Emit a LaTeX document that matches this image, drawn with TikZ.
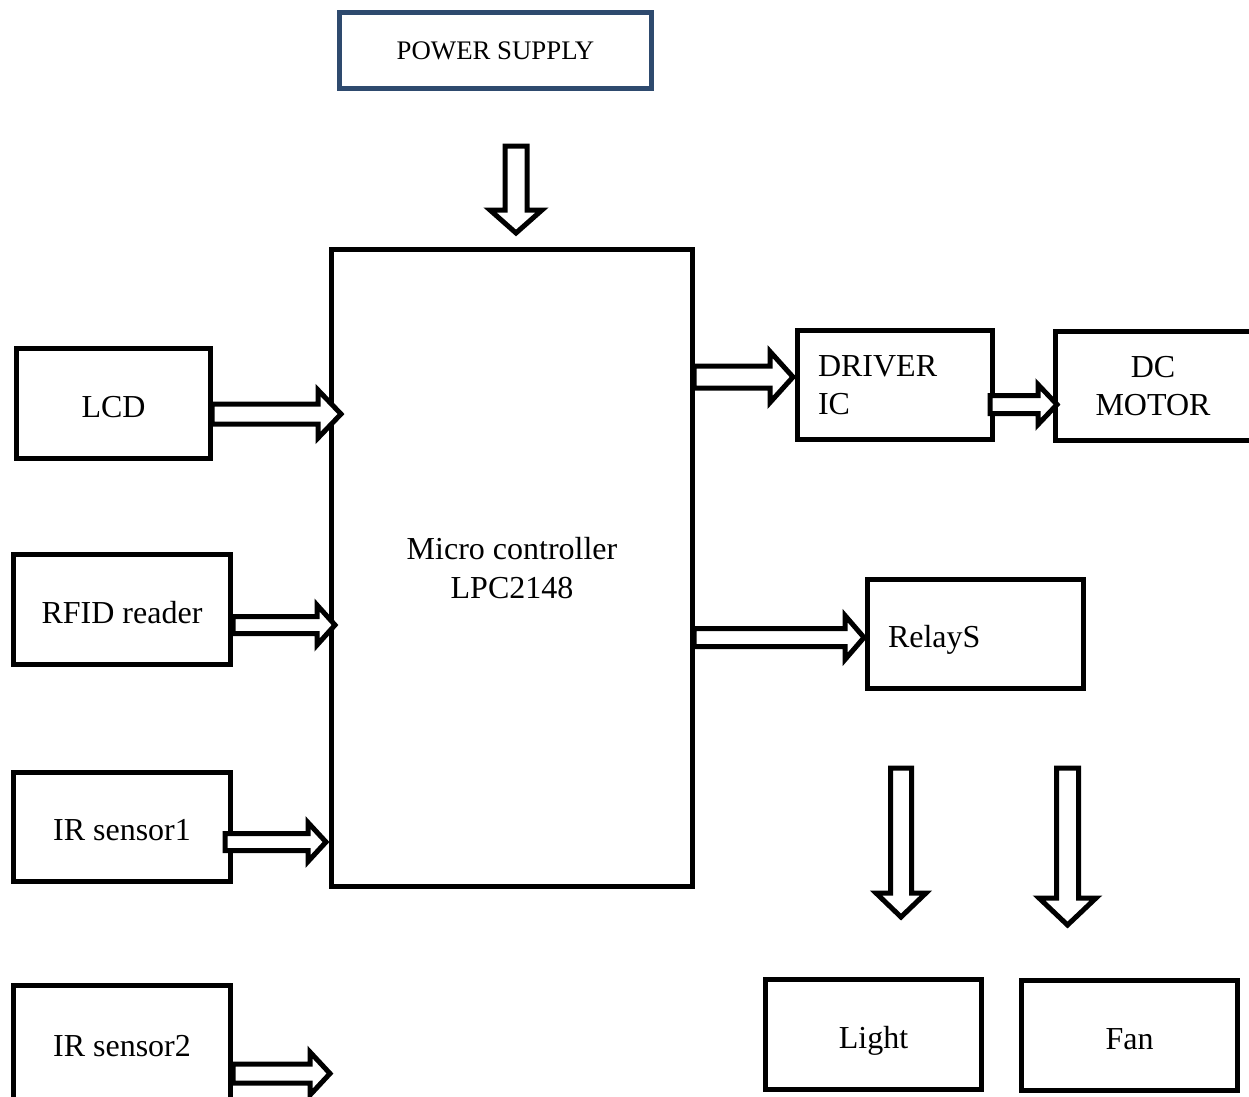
\documentclass[tikz,border=0pt]{standalone}
\usepackage{fontspec}
\setmainfont{Liberation Serif}
\usetikzlibrary{calc}
\definecolor{psblue}{RGB}{46,74,110}
\tikzset{
  box/.style={draw=black, line width=5pt, rectangle, inner sep=0pt,
    font=\fontsize{32}{38.4}\selectfont, align=center},
  oneline/.style={text height=33pt, text depth=6pt},
  blockarrow/.style={draw=black, fill=white, line width=5pt, line join=miter, miter limit=10},
}
% horizontal block arrow pointing right: #1 start, #2 tip, #3 shaft half width, #4 head half width, #5 head length
\newcommand\rblockarrow[5]{%
  \draw[blockarrow] let \p1=(#1), \p2=(#2) in
    (\x1,\y2+#3pt) -- (\x2-#5pt,\y2+#3pt) -- (\x2-#5pt,\y2+#4pt) -- (\x2,\y2)
    -- (\x2-#5pt,\y2-#4pt) -- (\x2-#5pt,\y2-#3pt) -- (\x1,\y2-#3pt) -- cycle;}
% vertical block arrow pointing down
\newcommand\dblockarrow[5]{%
  \draw[blockarrow] let \p1=(#1), \p2=(#2) in
    (\x2-#3pt,\y1) -- (\x2-#3pt,\y2+#5pt) -- (\x2-#4pt,\y2+#5pt) -- (\x2,\y2)
    -- (\x2+#4pt,\y2+#5pt) -- (\x2+#3pt,\y2+#5pt) -- (\x2+#3pt,\y1) -- cycle;}
\begin{document}
\begin{tikzpicture}[x=1pt,y=-1pt]
\useasboundingbox (0,0) rectangle (1249,1096);
\clip (0,0) rectangle (1249,1096);
\fill[white] (0,0) rectangle (1249,1096);

% boxes
\node[box, draw=psblue, minimum width=312pt, minimum height=76pt,
  font=\fontsize{26.8}{32}\selectfont, text height=22pt, text depth=3.5pt] (ps) at (495.5,50.5) {POWER SUPPLY};
\node[box, minimum width=361pt, minimum height=637pt] (mc) at (512,568) {Micro controller\\LPC2148};
\node[box, oneline, minimum width=194pt, minimum height=110pt] (lcd) at (113.5,403.5) {LCD};
\node[box, oneline, minimum width=217pt, minimum height=110pt] (rfid) at (122,609.5) {RFID reader};
\node[box, oneline, minimum width=217pt, minimum height=109pt] (ir1) at (122,827) {IR sensor1};
\node[box, oneline, minimum width=217pt, minimum height=116pt] (ir2) at (122,1043) {IR sensor2};
\node[box, minimum width=195pt, minimum height=109pt, text width=154pt, align=left] (drv) at (895,385) {DRIVER\\IC};
\node[box, minimum width=196pt, minimum height=109pt] (dc) at (1153,386) {DC\\MOTOR};
\node[box, oneline, minimum width=216pt, minimum height=109pt, text width=175pt, align=left] (rel) at (975.5,634) {RelayS};
\node[box, oneline, minimum width=216pt, minimum height=110pt] (light) at (873.5,1034.5) {Light};
\node[box, oneline, minimum width=216pt, minimum height=110pt] (fan) at (1129.5,1035.5) {Fan};

% arrow end points
\coordinate (psA) at (516,146);   \coordinate (psB) at (516,233);
\coordinate (lcdA) at (212,414);  \coordinate (lcdB) at (341,414);
\coordinate (rfA) at (233,625);   \coordinate (rfB) at (335,625);
\coordinate (ir1A) at (225,842);  \coordinate (ir1B) at (326,842);
\coordinate (ir2A) at (233,1073.5); \coordinate (ir2B) at (330,1073.5);
\coordinate (drA) at (694,377);   \coordinate (drB) at (793,377);
\coordinate (dcA) at (990,404.5); \coordinate (dcB) at (1057,404.5);
\coordinate (reA) at (694,637.5); \coordinate (reB) at (864,637.5);
\coordinate (liA) at (901,768);   \coordinate (liB) at (901,917);
\coordinate (faA) at (1067.5,768); \coordinate (faB) at (1067.5,925);

% block arrows
\dblockarrow{psA}{psB}{11}{26}{23}
\rblockarrow{lcdA}{lcdB}{10}{24}{23}
\rblockarrow{rfA}{rfB}{8.5}{20}{18}
\rblockarrow{ir1A}{ir1B}{8.5}{19.5}{18}
\rblockarrow{ir2A}{ir2B}{9.5}{21.5}{20}
\rblockarrow{drA}{drB}{11}{25.5}{23}
\rblockarrow{dcA}{dcB}{9}{20}{19}
\rblockarrow{reA}{reB}{9}{22}{19}
\dblockarrow{liA}{liB}{10.5}{25}{24}
\dblockarrow{faA}{faB}{11}{28.5}{27}
\end{tikzpicture}
\end{document}
